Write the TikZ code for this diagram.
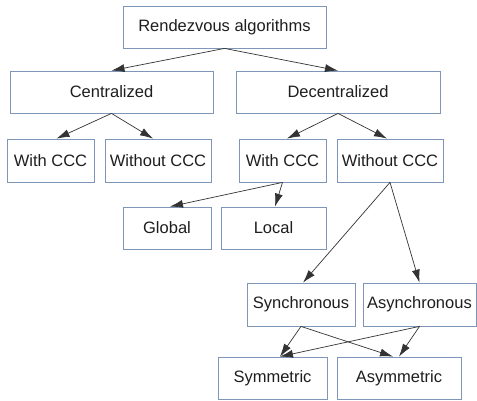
\documentclass[tikz,border=0pt]{standalone}
\usepackage{fontspec}
\setmainfont{Liberation Sans}
\usetikzlibrary{arrows.meta}
\definecolor{boxline}{RGB}{125,150,185}
\definecolor{txt}{RGB}{30,30,30}
\begin{document}
\begin{tikzpicture}[x=1pt,y=-1pt,
  box/.style={draw=boxline, line width=0.8pt, fill=white, inner sep=0pt, text=txt,
    font=\fontsize{16.5}{18}\selectfont, anchor=center},
  conn/.style={draw=black!80, line width=0.7pt, -{Latex[length=13pt,width=8pt]}}]
\useasboundingbox (0,0) rectangle (477,400);
\fill[white] (0,0) rectangle (477,400);
\node[box, minimum width=203pt, minimum height=42pt] (root) at (224.5,27) {Rendezvous algorithms};
\node[box, minimum width=203pt, minimum height=42pt] (cen) at (111.5,92) {Centralized};
\node[box, minimum width=204pt, minimum height=42pt] (dec) at (338,92) {Decentralized};
\node[box, minimum width=87pt, minimum height=43pt] (wc1) at (50.5,160.5) {With CCC};
\node[box, minimum width=106pt, minimum height=43pt] (woc1) at (158,160.5) {Without CCC};
\node[box, minimum width=87pt, minimum height=43pt] (wc2) at (282.5,160.5) {With CCC};
\node[box, minimum width=106pt, minimum height=43pt] (woc2) at (390,160.5) {Without CCC};
\node[box, minimum width=88pt, minimum height=42pt] (glob) at (167,228) {Global};
\node[box, minimum width=105pt, minimum height=42pt] (loc) at (273.5,228) {Local};
\node[box, minimum width=108pt, minimum height=43pt] (sync) at (301,304.5) {Synchronous};
\node[box, minimum width=113pt, minimum height=43pt] (async) at (419.5,304.5) {Asynchronous};
\node[box, minimum width=109pt, minimum height=42pt] (sym) at (272.5,378) {Symmetric};
\node[box, minimum width=124pt, minimum height=42pt] (asym) at (399,378) {Asymmetric};
\draw[conn] (root.south) -- (cen.north);
\draw[conn] (root.south) -- (dec.north);
\draw[conn] (cen.south) -- ([xshift=6pt]wc1.north);
\draw[conn] (cen.south) -- ([xshift=-5pt]woc1.north);
\draw[conn] (dec.south) -- ([xshift=4.5pt]wc2.north);
\draw[conn] (dec.south) -- ([xshift=-3pt]woc2.north);
\draw[conn] (wc2.south) -- ([xshift=3pt]glob.north);
\draw[conn] (wc2.south) -- ([xshift=1.5pt]loc.north);
\draw[conn] (woc2.south) -- ([xshift=2pt]sync.north);
\draw[conn] (woc2.south) -- (async.north);
\draw[conn] (sync.south) -- ([xshift=7.5pt]sym.north);
\draw[conn] (sync.south) -- ([xshift=-6pt]asym.north);
\draw[conn] (async.south) -- ([xshift=7.5pt]sym.north);
\draw[conn] (async.south) -- (asym.north);
\end{tikzpicture}
\end{document}
